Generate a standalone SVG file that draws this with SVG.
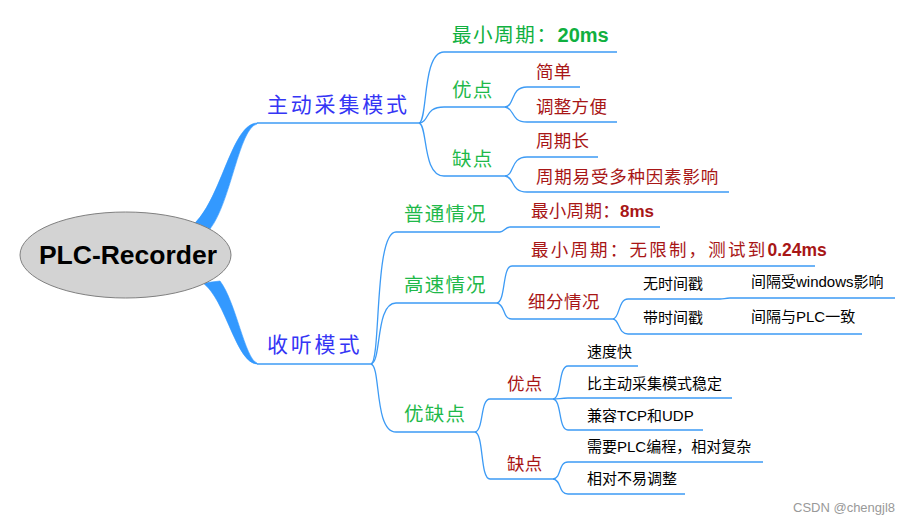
<svg xmlns="http://www.w3.org/2000/svg" width="911" height="525" viewBox="0 0 911 525">
<style>
.ln{fill:none;stroke:#3d9bf5;stroke-width:1.3}
.br{fill:#3399ff;stroke:#3399ff;stroke-width:0.6}
text{font-family:"Noto Sans CJK SC","Liberation Sans",sans-serif}
.l1{font-size:21px;fill:#3535f5;letter-spacing:2.8px}
.l2{font-size:19.5px;fill:#1fb94a;letter-spacing:1.2px}
.l3{font-size:17.5px;fill:#a81616;letter-spacing:0.3px}
.l4{font-size:15px;fill:#000}
.num{font-family:"Liberation Sans",sans-serif}
.bn{font-family:"Liberation Sans",sans-serif;font-weight:bold;letter-spacing:0}
</style>
<rect width="911" height="525" fill="#fff"/>
<g id="connectors">
<path class="br" d="M195,223 C222,196 232,124 257,123 L257,124 C239,128 231,202 210,229 Z"/>
<path class="br" d="M203,283 C226,300 236,363 257,364 L257,363 C245,359 236,302 220,281 Z"/>
<path class="ln" d="M257,123 L419,123"/>
<path class="ln" d="M419,123 C428,121 422,52 444,52 L617,52"/>
<path class="ln" d="M419,123 C430,122 424,107 444,107 L505,107"/>
<path class="ln" d="M419,123 C428,125 422,176 444,176 L505,176"/>
<path class="ln" d="M505,107 C515,106 510,87 527,87 L580,87"/>
<path class="ln" d="M505,107 C515,108 510,122 527,122 L617,122"/>
<path class="ln" d="M505,176 C515,175 510,157 527,157 L598,157"/>
<path class="ln" d="M505,176 C515,177 510,192 527,192 L729,192"/>
<path class="ln" d="M257,364 L371,364"/>
<path class="ln" d="M371,364 C381,362 374,232 396,232 L500,232 C504,232 505,227 510,227 L660,227"/>
<path class="ln" d="M371,364 C382,362 375,303 396,303 L497,303"/>
<path class="ln" d="M371,364 C381,366 374,432 396,432 L475,432"/>
<path class="ln" d="M497,303 C506,301 502,266 512,266 L815,266"/>
<path class="ln" d="M497,303 C506,305 502,319 512,319 L613,319"/>
<path class="ln" d="M613,319 C620,318 618,299 628,299 L720,299 C724,299 725,298 730,298 L895,298"/>
<path class="ln" d="M613,319 C620,320 618,334 628,334 L862,334"/>
<path class="ln" d="M475,432 C484,430 480,399 490,399 L553,399"/>
<path class="ln" d="M475,432 C484,434 480,479 490,479 L553,479"/>
<path class="ln" d="M553,399 C562,398 558,366 568,366 L638,366"/>
<path class="ln" d="M553,399 C560,399 560,398 568,398 L732,398"/>
<path class="ln" d="M553,399 C562,400 558,430 568,430 L703,430"/>
<path class="ln" d="M553,479 C562,478 558,462 568,462 L763,462"/>
<path class="ln" d="M553,479 C562,480 558,494 568,494 L685,494"/>
</g>
<g id="root">
<ellipse cx="125.5" cy="255" rx="105.5" ry="43" fill="#d3d3d3" stroke="#808080" stroke-width="1"/>
<text x="128" y="264" text-anchor="middle" style="font-family:'Liberation Sans',sans-serif;font-size:26.5px;font-weight:bold;fill:#000">PLC-Recorder</text>
</g>
<g id="n-active"><text class="l1" x="267" y="112">主动采集模式</text></g>
<g id="n-active-min"><text class="l2" x="452" y="42" style="fill:#10b040;letter-spacing:1.6px">最小周期：<tspan class="bn" style="font-size:20px">20ms</tspan></text></g>
<g id="n-active-pro"><text class="l2" x="452" y="97">优点</text></g>
<g id="n-active-con"><text class="l2" x="452" y="166">缺点</text></g>
<g id="n-a-pro1"><text class="l3" x="536" y="78">简单</text></g>
<g id="n-a-pro2"><text class="l3" x="536" y="113">调整方便</text></g>
<g id="n-a-con1"><text class="l3" x="536" y="147">周期长</text></g>
<g id="n-a-con2"><text class="l3" x="536" y="183" style="letter-spacing:0.8px">周期易受多种因素影响</text></g>
<g id="n-listen"><text class="l1" x="267" y="352">收听模式</text></g>
<g id="n-normal"><text class="l2" x="404" y="221">普通情况</text></g>
<g id="n-normal-min"><text class="l3" x="531" y="217">最小周期：<tspan class="bn" style="font-size:17px">8ms</tspan></text></g>
<g id="n-fast"><text class="l2" x="404" y="292">高速情况</text></g>
<g id="n-fast-min"><text class="l3" x="531" y="256" style="letter-spacing:2.2px">最小周期：无限制，测试到<tspan class="bn">0.24ms</tspan></text></g>
<g id="n-fast-sub"><text class="l3" x="528" y="308" style="letter-spacing:0.5px">细分情况</text></g>
<g id="n-nots"><text class="l4" x="643" y="289">无时间戳</text></g>
<g id="n-nots-v"><text class="l4" x="751" y="287">间隔受<tspan class="num">windows</tspan>影响</text></g>
<g id="n-ts"><text class="l4" x="643" y="323">带时间戳</text></g>
<g id="n-ts-v"><text class="l4" x="751" y="322">间隔与<tspan class="num">PLC</tspan>一致</text></g>
<g id="n-pc"><text class="l2" x="404" y="421">优缺点</text></g>
<g id="n-pc-pro"><text class="l3" x="507" y="390">优点</text></g>
<g id="n-pc-con"><text class="l3" x="507" y="470">缺点</text></g>
<g id="n-pro1"><text class="l4" x="587" y="357">速度快</text></g>
<g id="n-pro2"><text class="l4" x="587" y="389">比主动采集模式稳定</text></g>
<g id="n-pro3"><text class="l4" x="587" y="421">兼容<tspan class="num">TCP</tspan>和<tspan class="num">UDP</tspan></text></g>
<g id="n-con1"><text class="l4" x="587" y="452">需要<tspan class="num">PLC</tspan>编程，相对复杂</text></g>
<g id="n-con2"><text class="l4" x="587" y="484">相对不易调整</text></g>
<text x="793" y="512" style="font-family:'Liberation Sans',sans-serif;font-size:13px;fill:#999">CSDN @chengjl8</text>
</svg>
